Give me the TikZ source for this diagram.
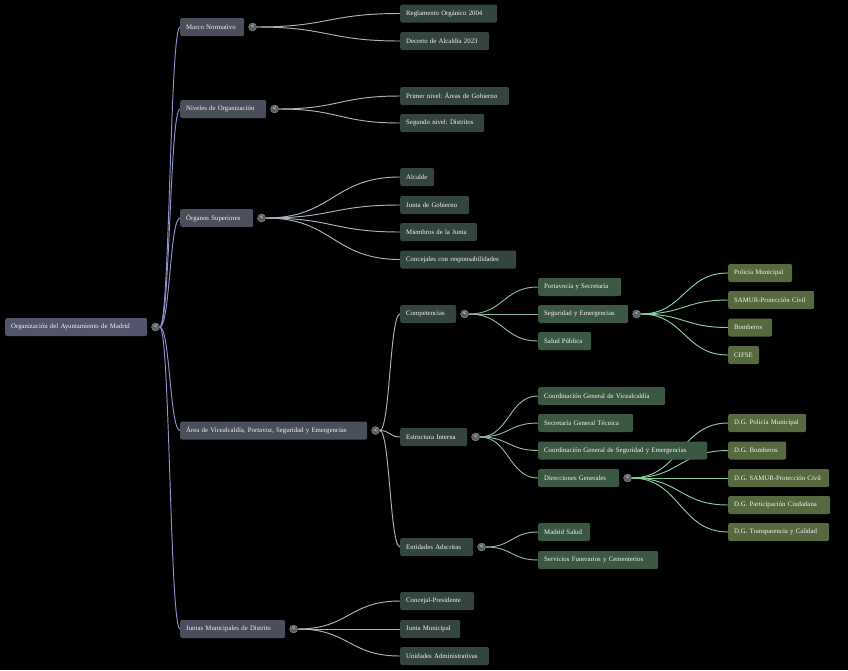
\documentclass[tikz,border=0pt]{standalone}
\usepackage{fontspec}
\setmainfont{Liberation Serif}
\usetikzlibrary{positioning,calc}
\frenchspacing

\pgfdeclarelayer{back}
\pgfdeclarelayer{links}
\pgfsetlayers{back,links,main}

\definecolor{rootfill}{HTML}{52556C}
\definecolor{onefill}{HTML}{4A4F5B}
\definecolor{twofill}{HTML}{34453E}
\definecolor{threefill}{HTML}{3C5843}
\definecolor{fourfill}{HTML}{56693F}
\definecolor{labeltext}{HTML}{F2F4F2}
\definecolor{knobfill}{HTML}{585E62}
\definecolor{knobline}{HTML}{868C90}
\definecolor{rootline}{HTML}{8E91CA}
\definecolor{greyline}{HTML}{A9B2BC}
\definecolor{sageline}{HTML}{8DB59D}
\definecolor{mintline}{HTML}{86CC9C}

\tikzset{
  box/.style={anchor=west, rounded corners=2pt, minimum height=18pt,
    inner xsep=6pt, inner ysep=0pt, align=left, text=labeltext,
    font=\fontsize{6.8}{8}\selectfont},
  boxw/.style={text width=#1},
  rootbox/.style={box, fill=rootfill},
  lvlone/.style={box, fill=onefill},
  lvltwo/.style={box, fill=twofill},
  lvlthree/.style={box, fill=threefill},
  lvlfour/.style={box, fill=fourfill},
  knob/.style={circle, inner sep=0pt, minimum size=8pt, fill=knobfill,
    draw=knobline, line width=0.4pt, text=white,
    font=\fontsize{6.5}{6.5}\selectfont\bfseries, right=4pt of #1},
  link/.style={line width=0.95pt, to path={let \p1=(\tikztostart), \p2=(\tikztotarget) in
    .. controls ({(\x1+\x2)/2},\y1) and ({(\x1+\x2)/2},\y2) .. (\tikztotarget)}},
  rootlink/.style={link, draw=rootline},
  greylink/.style={link, draw=greyline},
  sagelink/.style={link, draw=sageline},
  mintlink/.style={link, draw=mintline}
}

\begin{document}
\begin{tikzpicture}[x=1pt,y=-1pt]
\begin{pgfonlayer}{back}
\fill[black] (0,0) rectangle (848,670);
\end{pgfonlayer}

% root
\node[rootbox, boxw=130pt] (root) at (5,327) {Organización del Ayuntamiento de Madrid};
\node[knob=root] (kroot) {\textless};

% first level
\node[lvlone, boxw=52pt] (marco) at (180,27) {Marco Normativo};
\node[knob=marco] (kmarco) {\textless};
\node[lvlone, boxw=74pt] (niveles) at (180,109) {Niveles de Organización};
\node[knob=niveles] (kniveles) {\textless};
\node[lvlone, boxw=61pt] (organos) at (180,218) {Órganos Superiores};
\node[knob=organos] (korganos) {\textless};
\node[lvlone, boxw=175pt] (area) at (180,430.5) {Área de Vicealcaldía, Portavoz, Seguridad y Emergencias};
\node[knob=area] (karea) {\textless};
\node[lvlone, boxw=93pt] (juntas) at (180,629) {Juntas Municipales de Distrito};
\node[knob=juntas] (kjuntas) {\textless};

% second level
\node[lvltwo, boxw=85pt] (reglamento) at (400,13.5) {Reglamento Orgánico 2004};
\node[lvltwo, boxw=77pt] (decreto) at (400,41) {Decreto de Alcaldía 2023};
\node[lvltwo, boxw=97pt] (primer) at (400,96) {Primer nivel: Áreas de Gobierno};
\node[lvltwo, boxw=72pt] (segundo) at (400,123) {Segundo nivel: Distritos};
\node[lvltwo, boxw=22pt] (alcalde) at (400,177) {Alcalde};
\node[lvltwo, boxw=57pt] (jgob) at (400,205) {Junta de Gobierno};
\node[lvltwo, boxw=65pt] (miembros) at (400,232) {Miembros de la Junta};
\node[lvltwo, boxw=104pt] (concejales) at (400,259.5) {Concejales con responsabilidades};
\node[lvltwo, boxw=44pt] (compet) at (400,314) {Competencias};
\node[knob=compet] (kcompet) {\textless};
\node[lvltwo, boxw=55pt] (estruct) at (400,437) {Estructura Interna};
\node[knob=estruct] (kestruct) {\textless};
\node[lvltwo, boxw=61pt] (entid) at (400,547) {Entidades Adscritas};
\node[knob=entid] (kentid) {\textless};
\node[lvltwo, boxw=62pt] (concpres) at (400,601) {Concejal-Presidente};
\node[lvltwo, boxw=48pt] (jmun) at (400,629) {Junta Municipal};
\node[lvltwo, boxw=77pt] (unid) at (400,656) {Unidades Administrativas};

% third level
\node[lvlthree, boxw=71pt] (portav) at (538,287) {Portavocía y Secretaría};
\node[lvlthree, boxw=78pt] (segur) at (538,314) {Seguridad y Emergencias};
\node[knob=segur] (ksegur) {\textless};
\node[lvlthree, boxw=41pt] (salud) at (538,341) {Salud Pública};
\node[lvlthree, boxw=115pt] (cgvice) at (538,396) {Coordinación General de Vicealcaldía};
\node[lvlthree, boxw=83pt] (sgt) at (538,423) {Secretaría General Técnica};
\node[lvlthree, boxw=157pt] (cgseg) at (538,450.5) {Coordinación General de Seguridad y Emergencias};
\node[lvlthree, boxw=69pt] (dirgen) at (538,478) {Direcciones Generales};
\node[knob=dirgen] (kdirgen) {\textless};
\node[lvlthree, boxw=40pt] (msalud) at (538,532) {Madrid Salud};
\node[lvlthree, boxw=108pt] (sfun) at (538,560) {Servicios Funerarios y Cementerios};

% fourth level
\node[lvlfour, boxw=52pt] (policia) at (728,273) {Policía Municipal};
\node[lvlfour, boxw=74pt] (samur) at (728,300) {SAMUR-Protección Civil};
\node[lvlfour, boxw=32pt] (bomb) at (728,327.5) {Bomberos};
\node[lvlfour, boxw=19pt] (cifse) at (728,355) {CIFSE};
\node[lvlfour, boxw=66pt] (dgpol) at (728,423) {D.G. Policía Municipal};
\node[lvlfour, boxw=46pt] (dgbomb) at (728,450.5) {D.G. Bomberos};
\node[lvlfour, boxw=89pt] (dgsamur) at (728,478) {D.G. SAMUR-Protección Civil};
\node[lvlfour, boxw=90pt] (dgpart) at (728,505) {D.G. Participación Ciudadana};
\node[lvlfour, boxw=89pt] (dgtransp) at (728,532) {D.G. Transparencia y Calidad};

% connectors
\begin{pgfonlayer}{links}
\draw[rootlink] (kroot.east) to (marco.west);
\draw[rootlink] (kroot.east) to (niveles.west);
\draw[rootlink] (kroot.east) to (organos.west);
\draw[rootlink] (kroot.east) to (area.west);
\draw[rootlink] (kroot.east) to (juntas.west);
\draw[greylink] (kmarco.east) to (reglamento.west);
\draw[greylink] (kmarco.east) to (decreto.west);
\draw[greylink] (kniveles.east) to (primer.west);
\draw[greylink] (kniveles.east) to (segundo.west);
\draw[greylink] (korganos.east) to (alcalde.west);
\draw[greylink] (korganos.east) to (jgob.west);
\draw[greylink] (korganos.east) to (miembros.west);
\draw[greylink] (korganos.east) to (concejales.west);
\draw[greylink] (karea.east) to (compet.west);
\draw[greylink] (karea.east) to (estruct.west);
\draw[greylink] (karea.east) to (entid.west);
\draw[greylink] (kjuntas.east) to (concpres.west);
\draw[greylink] (kjuntas.east) to (jmun.west);
\draw[greylink] (kjuntas.east) to (unid.west);
\draw[sagelink] (kcompet.east) to (portav.west);
\draw[sagelink] (kcompet.east) to (segur.west);
\draw[sagelink] (kcompet.east) to (salud.west);
\draw[sagelink] (kestruct.east) to (cgvice.west);
\draw[sagelink] (kestruct.east) to (sgt.west);
\draw[sagelink] (kestruct.east) to (cgseg.west);
\draw[sagelink] (kestruct.east) to (dirgen.west);
\draw[sagelink] (kentid.east) to (msalud.west);
\draw[sagelink] (kentid.east) to (sfun.west);
\draw[mintlink] (ksegur.east) to (policia.west);
\draw[mintlink] (ksegur.east) to (samur.west);
\draw[mintlink] (ksegur.east) to (bomb.west);
\draw[mintlink] (ksegur.east) to (cifse.west);
\draw[mintlink] (kdirgen.east) to (dgpol.west);
\draw[mintlink] (kdirgen.east) to (dgbomb.west);
\draw[mintlink] (kdirgen.east) to (dgsamur.west);
\draw[mintlink] (kdirgen.east) to (dgpart.west);
\draw[mintlink] (kdirgen.east) to (dgtransp.west);
\end{pgfonlayer}
\end{tikzpicture}
\end{document}
